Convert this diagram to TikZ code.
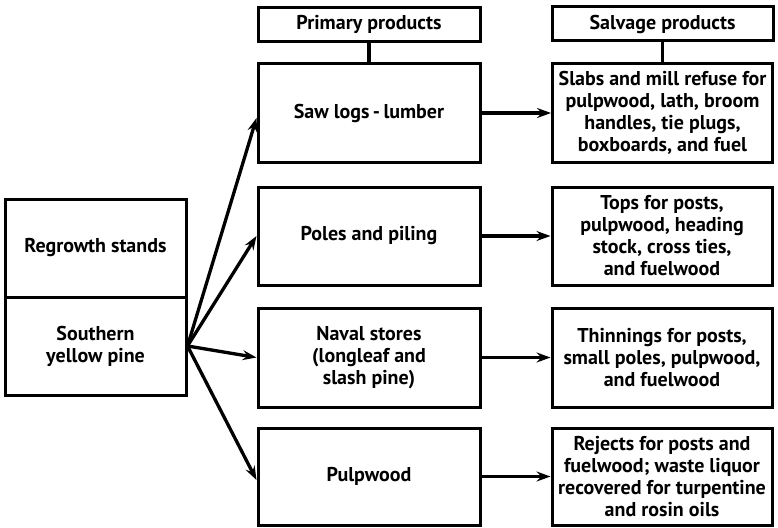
\documentclass[tikz,border=0pt]{standalone}
\usepackage{fontspec}
\setmainfont{PT Sans}
\usetikzlibrary{arrows.meta}
\begin{document}
\begin{tikzpicture}[x=1pt,y=-1pt,
  box/.style={draw,line width=3pt,rectangle,align=center,inner sep=0pt,
    font=\fontsize{20}{22}\selectfont\bfseries},
  prim/.style={box,minimum width=222pt,minimum height=99pt},
  salv/.style={box,minimum width=220pt,minimum height=99pt},
  head/.style={box,minimum height=34pt},
  left/.style={box,minimum width=181pt,minimum height=98pt},
  arr/.style={line width=3.3pt,-{Stealth[length=14pt,width=10pt,inset=5pt]}},
  link/.style={line width=3.3pt}]
\useasboundingbox (0,0) rectangle (778,527);
\node[head,minimum width=222pt] (phead) at (369,24.5) {Primary products};
\node[head,minimum width=221pt] (shead) at (662.5,24) {Salvage products};
\node[prim] (saw) at (369,113) {Saw logs\,-\,lumber};
\node[prim,minimum height=98pt] (poles) at (369,236) {Poles and piling};
\node[prim] (naval) at (369,357.5) {Naval stores\\(longleaf and\\slash pine)};
\node[prim,minimum height=97pt] (pulp) at (369,476.5) {Pulpwood};
\node[salv] (slabs) at (662.5,113) {Slabs and mill refuse for\\pulpwood, lath, broom\\handles, tie plugs,\\boxboards, and fuel};
\node[salv,minimum height=98pt] (tops) at (662,236) {Tops for posts,\\pulpwood, heading\\stock, cross ties,\\and fuelwood};
\node[salv] (thin) at (662,357.5) {Thinnings for posts,\\small poles, pulpwood,\\and fuelwood};
\node[salv,minimum height=97pt] (rej) at (662,476.5) {Rejects for posts and\\fuelwood; waste liquor\\recovered for turpentine\\and rosin oils};
\node[left] (regrowth) at (95.5,248) {Regrowth stands};
\node[left] (southern) at (95.5,346) {Southern\\yellow pine};
\draw[link] (phead) -- (saw);
\draw[link] (shead) -- (slabs);
\draw[arr] (southern.east) -- ([yshift=-5pt]saw.west);
\draw[arr] (southern.east) -- (poles.west);
\draw[arr] (southern.east) -- (naval.west);
\draw[arr] (southern.east) -- ([yshift=-3.5pt]pulp.west);
\draw[arr] (saw) -- (slabs);
\draw[arr] (poles) -- (tops);
\draw[arr] (naval) -- (thin);
\draw[arr] (pulp) -- (rej);
\end{tikzpicture}
\end{document}
